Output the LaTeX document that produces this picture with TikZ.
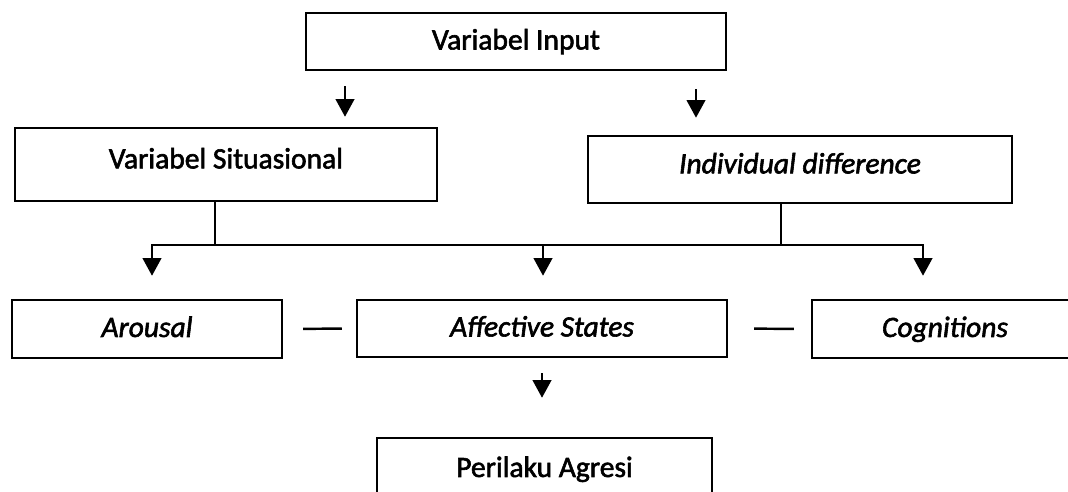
\documentclass[tikz,border=0pt]{standalone}
\usepackage{fontspec}
\setmainfont{Carlito}[FakeBold=2]
\usetikzlibrary{arrows.meta}

\begin{document}
\begin{tikzpicture}[x=0.02cm, y=-0.02cm, line width=1.4pt,
    font=\fontsize{16.8}{20}\selectfont,
    box/.style={draw=black, line width=1.4pt, inner sep=0pt, text height=2.1ex, text depth=0.2ex},
    tallbox/.style={box, text depth=1.17ex},
    arr/.style={-{Triangle[width=10.5pt,length=10pt]}}]
    \useasboundingbox (0,0) rectangle (1068,492);
    \clip (0,0) rectangle (1068,492);
    % Input
    \node[box, minimum width=8.4cm, minimum height=1.14cm] (input) at (516,41.5) {Variabel Input};
    % Situational and individual variables
    \node[tallbox, minimum width=8.44cm, minimum height=1.46cm] (situ) at (226,164.5) {Variabel Situasional};
    \node[tallbox, minimum width=8.48cm, minimum height=1.34cm] (indiv) at (800,169.5) {\itshape Individual difference};
    \coordinate (ia) at (345,0);
    \coordinate (ib) at (696,0);
    \draw[arr, shorten <=8.5pt, shorten >=5.7pt] (input.south -| ia) -- (situ.north -| ia);
    \draw[arr, shorten <=10.2pt, shorten >=9.7pt] (input.south -| ib) -- (indiv.north -| ib);
    % Present internal state
    \node[box, minimum width=5.4cm, minimum height=1.16cm] (arousal) at (147,329) {\itshape Arousal};
    \node[box, minimum width=7.4cm, minimum height=1.14cm] (affect) at (542,328.5) {\itshape Affective States};
    \node[box, minimum width=5.32cm, minimum height=1.16cm] (cogn) at (945,329) {\itshape Cognitions};
    % Bus
    \coordinate (sa) at (215,245);
    \coordinate (sb) at (781,245);
    \coordinate (ba) at (152,245);
    \coordinate (bb) at (543,245);
    \coordinate (bc) at (923,245);
    \draw (situ.south -| sa) -- (sa);
    \draw (indiv.south -| sb) -- (sb);
    \draw[line cap=rect] (ba) -- (bc);
    \draw[arr, shorten >=13.1pt] (ba) -- (arousal.north -| ba);
    \draw[arr, shorten >=13.1pt] (bb) -- (affect.north -| bb);
    \draw[arr, shorten >=13.1pt] (bc) -- (cogn.north -| bc);
    % Links between states
    \draw[shorten <=11.4pt, shorten >=8pt] (arousal.east) -- (affect.west);
    \draw[shorten <=14.8pt, shorten >=9.7pt] (affect.east) -- (cogn.west);
    % Outcome
    \node[box, minimum width=6.7cm, minimum height=1.24cm] (perilaku) at (544.5,469) {Perilaku Agresi};
    \draw[arr, shorten <=8.5pt, shorten >=22.2pt] (affect.south) -- (perilaku.north -| affect.south);
\end{tikzpicture}
\end{document}
